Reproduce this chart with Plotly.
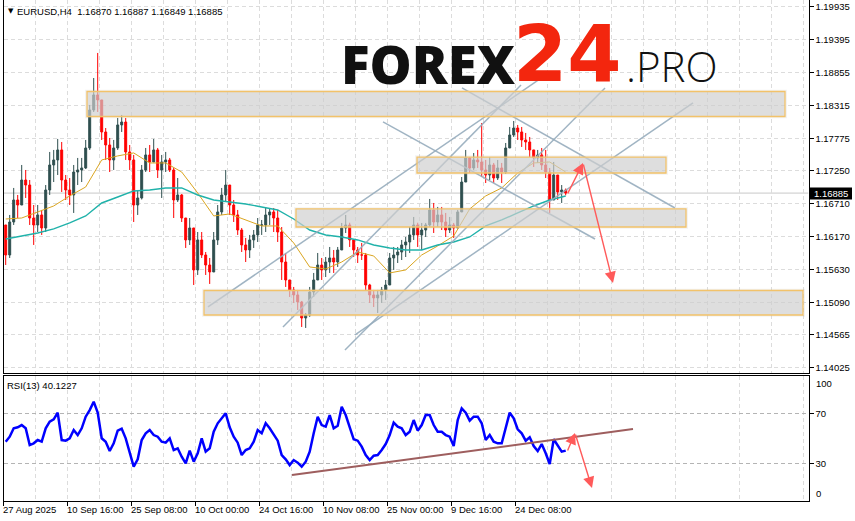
import plotly.graph_objects as go

W, H = 855, 521

# ---------------- data ----------------
# EURUSD H4, one candle per 4 H4 bars
candle_high = [1.16314, 1.16527, 1.16969, 1.16854, 1.17345, 1.17263, 1.17099, 1.16690, 1.16690, 1.16609,
               1.17017, 1.17558, 1.17591, 1.17771, 1.17721, 1.17181, 1.17132, 1.17345, 1.17460, 1.17460,
               1.17754, 1.18327, 1.18768, 1.19178, 1.18409, 1.17950, 1.17787, 1.17754, 1.18114, 1.18163,
               1.18114, 1.17672, 1.17509, 1.16936, 1.17345, 1.17623, 1.17672, 1.17771, 1.17623, 1.17509,
               1.17558, 1.17460, 1.17300, 1.17132, 1.16870, 1.16477, 1.16477, 1.16314, 1.16248, 1.16248,
               1.15921, 1.15823, 1.16248, 1.16690, 1.16969, 1.17263, 1.17017, 1.16772, 1.16609, 1.16314,
               1.16151, 1.16200, 1.16281, 1.16477, 1.16445, 1.16641, 1.16641, 1.16641, 1.16609, 1.16330,
               1.15905, 1.15463, 1.15349, 1.15300, 1.15120, 1.14923, 1.15349, 1.15578, 1.15905, 1.15823,
               1.15839, 1.16003, 1.15954, 1.16003, 1.16396, 1.16527, 1.16400, 1.16118, 1.16003, 1.16069,
               1.15905, 1.15400, 1.15300, 1.15300, 1.15349, 1.15463, 1.15905, 1.16003, 1.16003, 1.16118,
               1.16167, 1.16330, 1.16494, 1.16400, 1.16396, 1.16396, 1.16789, 1.16723, 1.16658, 1.16658,
               1.16560, 1.16494, 1.16396, 1.16609, 1.17148, 1.17591, 1.17476, 1.17541, 1.17591, 1.18032,
               1.17427, 1.17476, 1.17378, 1.17427, 1.17378, 1.17705, 1.17967, 1.18065, 1.18000, 1.17967,
               1.17869, 1.17803, 1.17591, 1.17591, 1.17623, 1.17591, 1.17296, 1.17394, 1.17181, 1.17017,
               1.16960]
candle_low = [1.15708, 1.15823, 1.16363, 1.16477, 1.16690, 1.16805, 1.16363, 1.16036, 1.16248, 1.16200,
              1.16248, 1.16854, 1.17066, 1.17181, 1.16903, 1.16772, 1.16690, 1.16560, 1.17017, 1.17066,
              1.17280, 1.17591, 1.18212, 1.18212, 1.17754, 1.17427, 1.17230, 1.17263, 1.17591, 1.17885,
              1.17427, 1.17263, 1.16412, 1.16527, 1.16780, 1.17230, 1.17230, 1.17394, 1.17132, 1.16805,
              1.17230, 1.17230, 1.16477, 1.16739, 1.16412, 1.15987, 1.16036, 1.15381, 1.15545, 1.15823,
              1.15545, 1.15398, 1.15594, 1.16036, 1.16527, 1.16739, 1.16527, 1.16412, 1.16200, 1.15921,
              1.15757, 1.15823, 1.15987, 1.16085, 1.16200, 1.16248, 1.16363, 1.16248, 1.16085, 1.15463,
              1.15349, 1.15185, 1.15087, 1.14972, 1.14694, 1.14678, 1.14858, 1.15185, 1.15463, 1.15463,
              1.15512, 1.15578, 1.15578, 1.15676, 1.15954, 1.16232, 1.16003, 1.15839, 1.15741, 1.15790,
              1.15300, 1.15087, 1.15021, 1.14923, 1.15087, 1.15136, 1.15414, 1.15627, 1.15741, 1.15790,
              1.15839, 1.15905, 1.16118, 1.16003, 1.15954, 1.16167, 1.16330, 1.16232, 1.16330, 1.16281,
              1.16167, 1.16232, 1.16151, 1.16314, 1.16576, 1.17066, 1.17214, 1.17263, 1.17296, 1.17148,
              1.17050, 1.17099, 1.17050, 1.17099, 1.17050, 1.17200, 1.17623, 1.17803, 1.17754, 1.17640,
              1.17591, 1.17476, 1.17312, 1.17378, 1.17263, 1.17132, 1.16560, 1.16772, 1.16772, 1.16723,
              1.16849]
candle_close = [1.15872, 1.16412, 1.16772, 1.16690, 1.17099, 1.17017, 1.16477, 1.16363, 1.16527, 1.16314,
                1.16936, 1.17345, 1.17427, 1.17591, 1.17099, 1.16936, 1.16854, 1.17230, 1.17263, 1.17296,
                1.17623, 1.18245, 1.18491, 1.18409, 1.17885, 1.17672, 1.17427, 1.17623, 1.18000, 1.18048,
                1.17558, 1.17427, 1.16690, 1.16805, 1.17263, 1.17509, 1.17394, 1.17591, 1.17263, 1.17394,
                1.17427, 1.17263, 1.16772, 1.16854, 1.16477, 1.16118, 1.16314, 1.15627, 1.16118, 1.15872,
                1.15708, 1.15594, 1.16118, 1.16576, 1.16854, 1.17017, 1.16690, 1.16527, 1.16281, 1.16036,
                1.15954, 1.16118, 1.16200, 1.16363, 1.16363, 1.16527, 1.16576, 1.16477, 1.16248, 1.15757,
                1.15463, 1.15300, 1.15218, 1.15103, 1.14841, 1.14890, 1.15267, 1.15463, 1.15708, 1.15627,
                1.15757, 1.15823, 1.15757, 1.15954, 1.16314, 1.16363, 1.16118, 1.15954, 1.15872, 1.15872,
                1.15381, 1.15218, 1.15169, 1.15218, 1.15300, 1.15381, 1.15823, 1.15872, 1.15921, 1.16036,
                1.16085, 1.16200, 1.16363, 1.16200, 1.16281, 1.16363, 1.16609, 1.16412, 1.16527, 1.16412,
                1.16281, 1.16363, 1.16314, 1.16576, 1.17066, 1.17460, 1.17296, 1.17427, 1.17394, 1.17263,
                1.17181, 1.17345, 1.17132, 1.17296, 1.17230, 1.17623, 1.17836, 1.17950, 1.17885, 1.17754,
                1.17721, 1.17591, 1.17460, 1.17509, 1.17345, 1.17230, 1.16772, 1.17181, 1.16903, 1.16936,
                1.16885]
first_open = 1.16363

# moving averages, one reading every 4 candles
ma_orange = [1.16461, 1.16477, 1.16576, 1.16674, 1.16838, 1.16985, 1.17427, 1.17493, 1.17542, 1.17378,
             1.17378, 1.17230, 1.16887, 1.16511, 1.16543, 1.16445, 1.16347, 1.16347, 1.16069, 1.15676,
             1.15643, 1.15757, 1.15921, 1.15856, 1.15578, 1.15627, 1.15872, 1.16020, 1.16183, 1.16625,
             1.16838, 1.16969, 1.17214, 1.17378, 1.17394, 1.17230]
ma_teal = [1.16134, 1.16183, 1.16232, 1.16298, 1.16396, 1.16511, 1.16723, 1.16821, 1.16920, 1.16936,
           1.16969, 1.16969, 1.16854, 1.16772, 1.16739, 1.16707, 1.16658, 1.16609, 1.16461, 1.16281,
           1.16200, 1.16167, 1.16118, 1.16036, 1.15987, 1.15954, 1.15954, 1.16036, 1.16085, 1.16167,
           1.16347, 1.16445, 1.16560, 1.16674, 1.16772, 1.16838]

# RSI(13), one reading per candle
rsi_values = [47.3, 51.3, 58.0, 58.8, 60.6, 58.0, 44.6, 46.0, 48.6, 47.3,
              58.0, 63.3, 65.2, 70.5, 48.6, 48.1, 50.0, 56.6, 52.6, 58.0,
              67.3, 72.6, 79.3, 70.5, 50.0, 47.3, 39.8, 46.0, 56.1, 57.7,
              50.0, 38.0, 27.3, 33.2, 48.6, 54.0, 56.6, 52.6, 51.3, 47.3,
              46.5, 50.0, 40.6, 42.0, 35.3, 30.0, 40.1, 31.3, 38.0, 50.0,
              39.3, 42.0, 55.3, 62.0, 66.0, 70.0, 58.8, 51.3, 46.5, 36.6,
              40.6, 42.0, 47.3, 56.6, 54.0, 62.0, 58.0, 53.4, 48.1, 36.6,
              33.2, 28.6, 32.6, 30.5, 27.3, 31.3, 39.3, 54.0, 67.3, 60.6,
              59.3, 68.6, 58.0, 60.1, 75.3, 68.6, 59.3, 49.2, 48.1, 43.3,
              36.6, 32.6, 36.1, 36.6, 40.6, 45.4, 52.6, 62.5, 59.3, 58.0,
              52.6, 55.3, 64.6, 56.1, 60.6, 68.6, 68.6, 60.6, 55.3, 55.3,
              52.6, 51.3, 43.8, 64.6, 74.0, 70.5, 64.1, 67.3, 67.3, 62.0,
              48.6, 52.6, 47.3, 46.0, 46.0, 59.3, 70.5, 66.0, 57.2, 54.0,
              48.1, 50.8, 43.8, 39.8, 45.4, 38.0, 29.4, 49.2, 44.6, 39.3,
              40.12]

price_tick_values = [1.19935, 1.19395, 1.18855, 1.18315, 1.17775, 1.17250,
                     1.16710, 1.16170, 1.15630, 1.15090, 1.14565, 1.14025]
date_tick_labels = ["27 Aug 2025", "10 Sep 16:00", "25 Sep 08:00", "10 Oct 00:00", "24 Oct 16:00",
                    "10 Nov 08:00", "25 Nov 00:00", "9 Dec 16:00", "24 Dec 08:00"]
date_tick_bars = [0, 64, 128, 192, 256, 320, 384, 448, 512]
header_text = "EURUSD,H4  1.16870 1.16887 1.16849 1.16885"
last_price = 1.16885
rsi_last = "40.1227"

# analyst drawings (H4 bar index, price)
zone_x0 = [83.3, 413.3, 292.3, 200.3]
zone_x1 = [781.3, 662.3, 682.3, 799.3]
zone_lo = [1.18138, 1.17214, 1.16330, 1.14890]
zone_hi = [1.18547, 1.17475, 1.16625, 1.15291]
trend_x0 = [204.3, 279.3, 341.3, 351.3, 458.3, 379.3]
trend_p0 = [1.15022, 1.14694, 1.14318, 1.14563, 1.18605, 1.18049]
trend_x1 = [536.3, 517.3, 601.3, 689.3, 671.3, 591.3]
trend_p1 = [1.18752, 1.18654, 1.18605, 1.18360, 1.16641, 1.16134]
arrow_bars = [563.3, 579.3, 609.3]
arrow_prices = [1.16855, 1.17378, 1.15414]
rsi_arrow_bars = [563.3, 571.3, 588.3]
rsi_arrow_vals = [39.0, 54.2, 10.2]
rsi_line_bars = [288.3, 629.3]
rsi_line_vals = [20.6, 57.4]

# ---------------- figure ----------------
bars = [4 * k + 2 for k in range(len(candle_close))]
opens = [first_open] + candle_close[:-1]
ma_bars = [16 * j + 2 for j in range(len(ma_orange))]

def px(x):
    return x / W

def py(y):
    return 1 - y / H

FONT = "Liberation Sans"
XDOM = [px(3.5), px(808.5)]
XR = [-0.2, 804.8]

fig = go.Figure()
fig.add_trace(go.Candlestick(
    x=bars, open=opens, high=candle_high, low=candle_low, close=candle_close,
    increasing=dict(line=dict(color="#2F4F4F", width=1), fillcolor="#2F4F4F"),
    decreasing=dict(line=dict(color="#FF0000", width=1), fillcolor="#FF0000"),
    whiskerwidth=0, hoverinfo="skip", xaxis="x", yaxis="y"))
fig.add_trace(go.Scatter(x=ma_bars, y=ma_orange, mode="lines",
                         line=dict(color="#DAA520", width=1), hoverinfo="skip", xaxis="x", yaxis="y"))
fig.add_trace(go.Scatter(x=ma_bars, y=ma_teal, mode="lines",
                         line=dict(color="#20B2AA", width=1.4), hoverinfo="skip", xaxis="x", yaxis="y"))
fig.add_trace(go.Scatter(x=bars, y=rsi_values, mode="lines",
                         line=dict(color="#0000FF", width=2.5), hoverinfo="skip", xaxis="x2", yaxis="y2"))

shapes = []
shapes.append(dict(type="line", xref="x", yref="y", x0=XR[0], x1=XR[1], y0=last_price, y1=last_price,
                   line=dict(color="#C8C8C8", width=1), layer="below"))
for a, b, c, d in zip(trend_x0, trend_p0, trend_x1, trend_p1):
    shapes.append(dict(type="line", xref="x", yref="y", x0=a, y0=b, x1=c, y1=d,
                       line=dict(color="rgba(150,172,188,0.9)", width=1.5), layer="above"))
for a, b, lo, hi in zip(zone_x0, zone_x1, zone_lo, zone_hi):
    shapes.append(dict(type="rect", xref="x", yref="y", x0=a - 2, x1=b + 2, y0=lo - 0.0003, y1=hi + 0.0003,
                       fillcolor="rgba(190,190,190,0.18)", line=dict(width=0), layer="above"))
    shapes.append(dict(type="rect", xref="x", yref="y", x0=a, x1=b, y0=lo, y1=hi,
                       fillcolor="rgba(208,208,208,0.62)", line=dict(color="#F2C26A", width=1.3), layer="above"))
shapes.append(dict(type="line", xref="x2", yref="y2", x0=rsi_line_bars[0], y0=rsi_line_vals[0],
                   x1=rsi_line_bars[1], y1=rsi_line_vals[1], line=dict(color="#9E5E5E", width=2), layer="above"))
shapes.append(dict(type="rect", xref="paper", yref="paper", x0=px(810), x1=px(852), y0=py(199.5), y1=py(187.5),
                   fillcolor="black", line=dict(width=0)))

ann = []
lab_font = dict(family=FONT, size=9.5, color="black")
for lbl, b in zip(date_tick_labels, date_tick_bars):
    ann.append(dict(text=lbl, x=b, xref="x2", y=py(509), yref="paper", xanchor="left", yanchor="middle",
                    showarrow=False, font=lab_font, xshift=-3))
ann.append(dict(text="100", x=px(814), y=py(383), xref="paper", yref="paper", xanchor="left",
                yanchor="middle", showarrow=False, font=lab_font))
ann.append(dict(text="0", x=px(814), y=py(493), xref="paper", yref="paper", xanchor="left",
                yanchor="middle", showarrow=False, font=lab_font))
ann.append(dict(text=f"{last_price:.5f}", x=px(831), y=py(193.5), xref="paper", yref="paper",
                xanchor="center", yanchor="middle", showarrow=False,
                font=dict(family=FONT, size=9.5, color="white")))
ann.append(dict(text="▼", x=px(6), y=py(11), xref="paper", yref="paper", xanchor="left", yanchor="middle",
                showarrow=False, font=dict(family="DejaVu Sans", size=7, color="black")))
ann.append(dict(text=header_text, x=px(15), y=py(11), xref="paper", yref="paper", xanchor="left",
                yanchor="middle", showarrow=False, font=lab_font))
ann.append(dict(text=f"RSI(13) {rsi_last}", x=px(5), y=py(385), xref="paper", yref="paper",
                xanchor="left", yanchor="middle", showarrow=False, font=lab_font))
# logo
ann.append(dict(text="FOREX", x=px(339), y=py(63), xref="paper", yref="paper", xanchor="left",
                yanchor="middle", showarrow=False,
                font=dict(family="Open Sans", size=53, color="#111111", weight=800)))
ann.append(dict(text="24", x=px(511), y=py(54), xref="paper", yref="paper", xanchor="left",
                yanchor="middle", showarrow=False,
                font=dict(family="DejaVu Sans", size=78, color="#F3260E", weight=700)))
ann.append(dict(text=".PRO", x=px(624), y=py(65), xref="paper", yref="paper", xanchor="left",
                yanchor="middle", showarrow=False,
                font=dict(family="Open Sans", size=42, color="#111111", weight=300)))
for i in range(2):
    ann.append(dict(x=arrow_bars[i + 1], y=arrow_prices[i + 1], ax=arrow_bars[i], ay=arrow_prices[i],
                    xref="x", yref="y", axref="x", ayref="y", text="", showarrow=True,
                    arrowhead=2, arrowsize=1.6, arrowwidth=1.4, arrowcolor="#FF5A5A"))
    ann.append(dict(x=rsi_arrow_bars[i + 1], y=rsi_arrow_vals[i + 1], ax=rsi_arrow_bars[i], ay=rsi_arrow_vals[i],
                    xref="x2", yref="y2", axref="x2", ayref="y2", text="", showarrow=True,
                    arrowhead=2, arrowsize=1.6, arrowwidth=1.4, arrowcolor="#FF5A5A"))

grid = dict(showgrid=True, gridcolor="#DCDCDC", griddash="4px,3px", gridwidth=1)
axline = dict(showline=True, linecolor="black", linewidth=1, mirror=True, zeroline=False)

fig.update_layout(
    width=W, height=H, margin=dict(l=0, r=0, t=0, b=0, autoexpand=False),
    paper_bgcolor="white", plot_bgcolor="white", showlegend=False,
    shapes=shapes, annotations=ann,
    xaxis=dict(domain=XDOM, range=XR, anchor="y", tickmode="array", tickvals=list(range(0, 805, 32)),
               showticklabels=False, ticks="", rangeslider=dict(visible=False), **grid, **axline),
    yaxis=dict(domain=[py(372.5), 1], range=[1.13949, 1.200446], side="right", anchor="x",
               tickmode="array", tickvals=price_tick_values, ticktext=[f"{v:.5f}" for v in price_tick_values],
               ticks="outside", ticklen=4, tickcolor="black", tickfont=lab_font, automargin=False,
               **grid, **axline),
    xaxis2=dict(domain=XDOM, range=XR, anchor="y2", matches="x", tickmode="array", tickvals=date_tick_bars,
                showticklabels=False, ticks="outside", ticklen=4, tickcolor="black",
                minor=dict(tickmode="array", tickvals=list(range(32, 805, 64)), showgrid=True,
                           gridcolor="#DCDCDC", griddash="4px,3px"),
                **grid, **axline),
    yaxis2=dict(domain=[py(500.5), py(375.5)], range=[0.24, 100.24], side="right", anchor="x2",
                tickmode="array", tickvals=[70, 30], ticktext=["70", "30"], ticks="outside", ticklen=4,
                tickcolor="black", tickfont=lab_font, showgrid=True, gridcolor="#B4B4B4",
                griddash="4px,3px", automargin=False, **axline),
)

fig.write_html("out.html", config={"displayModeBar": False},
               post_script="document.body.style.margin='0';document.body.style.overflow='hidden';")
